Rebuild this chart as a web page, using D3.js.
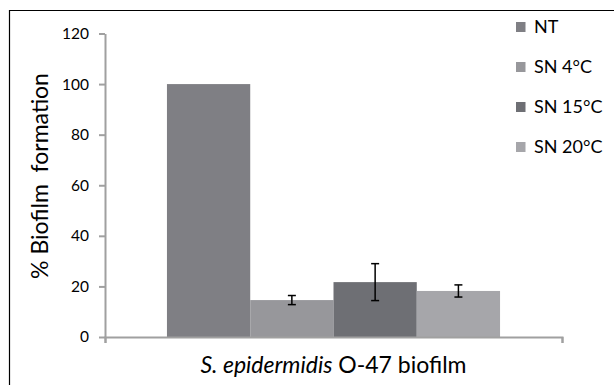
<!DOCTYPE html>
<html lang="en">
<head>
<meta charset="UTF-8">
<title>S. epidermidis O-47 biofilm</title>
<script src="https://d3js.org/d3.v7.min.js"></script>
<style>
  body { margin: 0; background: #fff; }
  text { font-family: Lato, "Open Sans", sans-serif; fill: #000; }
</style>
</head>
<body>
<div id="chart"></div>
<script>
// data
const groups = ["S. epidermidis O-47 biofilm"];
const series = ["NT", "SN 4°C", "SN 15°C", "SN 20°C"];
const values = [100, 14.6, 21.7, 18.2];
const errors = [0, 1.8, 7.3, 2.4];
const colors = ["#7f7f84", "#97979b", "#6e6f74", "#a6a6aa"];
const yTicks = [0, 20, 40, 60, 80, 100, 120];

const w = 614, h = 385;
const margin = {left: 105, right: 52, top: 33.5, bottom: 48};

const svg = d3.select("#chart").append("svg")
  .attr("width", w).attr("height", h);

// outer frame (left + top only visible)
svg.append("path")
  .attr("d", `M9.5,${h} L9.5,10.5 L${w},10.5`)
  .attr("fill", "none").attr("stroke", "#000").attr("stroke-width", 1.2);

const x0 = d3.scaleBand().domain(groups)
  .range([margin.left, w - margin.right]).paddingInner(0).paddingOuter(0.186);
const x1 = d3.scaleBand().domain(series).range([0, x0.bandwidth()]);
const y = d3.scaleLinear().domain([0, 120]).range([h - margin.bottom, margin.top]);

// y axis
const yAxis = svg.append("g")
  .attr("transform", `translate(${margin.left},0)`)
  .call(d3.axisLeft(y).tickValues(yTicks).tickSize(6).tickPadding(10).tickSizeOuter(0));
yAxis.select(".domain").attr("stroke", "#a0a0a0").attr("stroke-width", 2);
yAxis.selectAll(".tick line").attr("stroke", "#a0a0a0").attr("stroke-width", 2);
yAxis.selectAll(".tick text").style("font-size", "15.5px").attr("fill", "#000");

// bars
const g = svg.append("g");
g.selectAll("rect").data(series).join("rect")
  .attr("x", (d) => x0(groups[0]) + x1(d))
  .attr("y", (d, i) => y(values[i]))
  .attr("width", x1.bandwidth())
  .attr("height", (d, i) => y(0) - y(values[i]))
  .attr("fill", (d, i) => colors[i]);

// error bars
const eb = g.selectAll(".err").data(series.filter((d, i) => errors[i] > 0)).join("g")
  .attr("class", "err");
eb.each(function (d) {
  const i = series.indexOf(d);
  const cx = x0(groups[0]) + x1(d) + x1.bandwidth() / 2;
  const e = d3.select(this);
  e.append("line").attr("x1", cx).attr("x2", cx)
    .attr("y1", y(values[i] - errors[i])).attr("y2", y(values[i] + errors[i]));
  [values[i] - errors[i], values[i] + errors[i]].forEach((v) => {
    e.append("line").attr("x1", cx - 4).attr("x2", cx + 4)
      .attr("y1", y(v)).attr("y2", y(v));
  });
  e.selectAll("line").attr("stroke", "#000").attr("stroke-width", 1.5);
});

// x axis
const xAxis = svg.append("g")
  .attr("transform", `translate(0,${y(0)})`)
  .call(d3.axisBottom(d3.scaleLinear().domain([0, 1]).range([margin.left, w - margin.right]))
    .tickValues([0, 1]).tickSize(6).tickFormat(""));
xAxis.select(".domain").attr("stroke", "#a0a0a0").attr("stroke-width", 2);
xAxis.selectAll(".tick line").attr("stroke", "#a0a0a0").attr("stroke-width", 2);

// x label
const xl = svg.append("text")
  .attr("x", x0(groups[0]) + x0.bandwidth() / 2)
  .attr("y", 373)
  .attr("text-anchor", "middle")
  .style("font-size", "23px");
xl.append("tspan").style("font-style", "italic").text("S. epidermidis");
xl.append("tspan").text(" O-47 biofilm");

// y label
svg.append("text")
  .attr("transform", `translate(48,176) rotate(-90)`)
  .attr("text-anchor", "middle")
  .style("font-size", "23px")
  .text("% Biofilm\u00a0 formation");

// legend
const leg = svg.append("g").attr("transform", "translate(516,22)");
const li = leg.selectAll("g").data(series).join("g")
  .attr("transform", (d, i) => `translate(0,${i * 40})`);
li.append("rect").attr("width", 9.5).attr("height", 10)
  .attr("fill", (d, i) => colors[i]);
li.append("text").attr("x", 18).attr("y", 11)
  .style("font-size", "18px").text((d) => d);
</script>
</body>
</html>
